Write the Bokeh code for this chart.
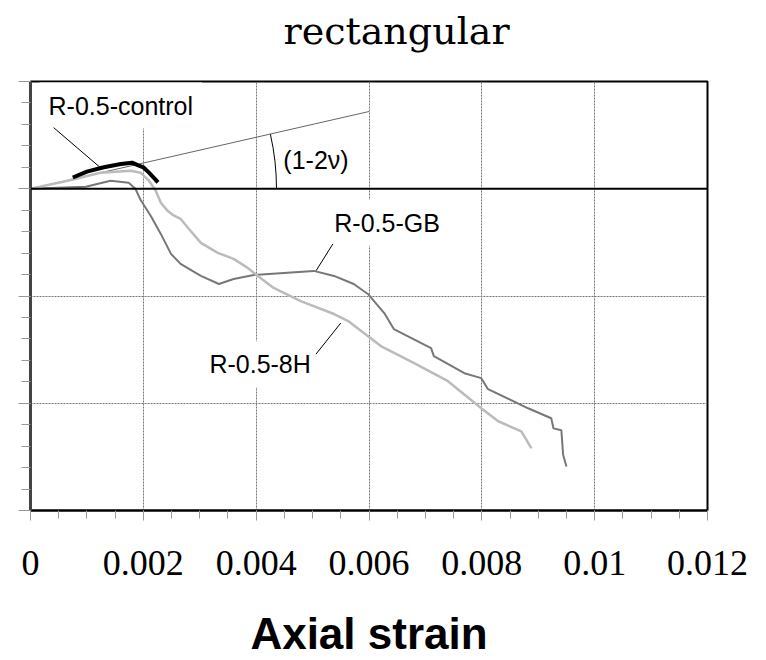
import math
from bokeh.plotting import figure
from bokeh.models import FixedTicker, Span, CustomJSTickFormatter, LinearAxis
from bokeh.core.properties import value
from bokeh.embed import file_html
from bokeh.resources import INLINE

# ---------------- data ----------------
TITLE = "rectangular"
X_LABEL = "Axial strain"
X_TICKS = [0, 0.002, 0.004, 0.006, 0.008, 0.010, 0.012]
X_TICK_LABELS = ["0", "0.002", "0.004", "0.006", "0.008", "0.01", "0.012"]
Y_TICKS = [-0.003, -0.002, -0.001, 0.0, 0.001]

# R-0.5-control
ctrl_x = [0.00075, 0.0010, 0.0013, 0.0016, 0.0018, 0.0019, 0.0020, 0.0021, 0.0022, 0.00226]
ctrl_y = [0.000105, 0.000160, 0.000200, 0.000230, 0.000243, 0.000220, 0.000200, 0.000150, 0.000095, 0.000060]

# R-0.5-8H
h8_x = [0.0, 0.00066, 0.00124, 0.00178, 0.00195, 0.00210, 0.00222, 0.00231, 0.00243, 0.00252,
        0.00266, 0.00279, 0.00302, 0.00332, 0.00360, 0.00385, 0.00403, 0.00431, 0.00479, 0.00538,
        0.00563, 0.00621, 0.00680, 0.00740, 0.00799, 0.00829, 0.00870, 0.00888]
h8_y = [0.0, 0.000075, 0.00015, 0.000168, 0.00015, 0.000075, -0.000019, -0.000131, -0.000206, -0.000243,
        -0.00028, -0.000364, -0.000505, -0.000598, -0.000654, -0.000738, -0.000813, -0.000925, -0.001047, -0.001168,
        -0.001234, -0.001467, -0.001626, -0.001794, -0.002047, -0.002168, -0.002262, -0.002421]

# R-0.5-GB
gb_x = [0.0, 0.00098, 0.00142, 0.00174, 0.00186, 0.00195, 0.00213, 0.00231, 0.00249, 0.00266,
        0.00302, 0.00334, 0.00360, 0.00396, 0.00449, 0.00502, 0.00538, 0.00573, 0.00598, 0.00627,
        0.00644, 0.00710, 0.00715, 0.00769, 0.00799, 0.00811, 0.00882, 0.00923, 0.00927, 0.00941,
        0.00944, 0.00950]
gb_y = [0.0, 0.000019, 0.000075, 0.000056, 0.0, -0.000103, -0.000252, -0.000421, -0.000607, -0.000701,
        -0.000813, -0.000888, -0.000841, -0.000804, -0.000785, -0.000766, -0.000813, -0.000888, -0.000981, -0.001159,
        -0.001308, -0.001486, -0.001561, -0.00172, -0.001766, -0.001869, -0.002047, -0.00214, -0.002234, -0.002252,
        -0.002477, -0.002589]

# (1-2v) reference line
SLOPE = 0.12
slope_x = [0.0, 0.006]

# annotations
label_text = ["R-0.5-control", "R-0.5-GB", "R-0.5-8H"]
label_x = [0.00160, 0.00632, 0.00407]
label_y = [0.000776, -0.000318, -0.001636]
nu_text = ["(1-2\u03bd)"]
nu_x = [0.00506]
nu_y = [0.000271]
leader_x0 = [0.00041, 0.00536, 0.00506]
leader_y0 = [0.00057, -0.000514, -0.001542]
leader_x1 = [0.00124, 0.00506, 0.00550]
leader_y1 = [0.000196, -0.000766, -0.001252]

# ---------------- figure ----------------
p = figure(width=766, height=660, output_backend="svg", toolbar_location=None,
           x_range=(0, 0.012), y_range=(-0.003, 0.001),
           min_border_left=30, min_border_right=59, min_border_top=81, min_border_bottom=149)
p.background_fill_color = "white"
p.border_fill_color = "white"
p.outline_line_color = "black"
p.outline_line_width = 2

xa = p.below[0]
ya = p.left[0]

# invisible spacer between frame and title (one hidden tick, no line, empty label)
spacer = LinearAxis(ticker=FixedTicker(ticks=[X_TICKS[3]], minor_ticks=[]), axis_line_color=None,
                    major_tick_in=0, major_tick_out=27, minor_tick_in=0, minor_tick_out=0,
                    major_tick_line_color=None, minor_tick_line_color=None,
                    major_label_standoff=0, formatter=CustomJSTickFormatter(code="return '';"))
p.add_layout(spacer, "above")

p.title.text = TITLE
p.title.text_font = "DejaVu Serif"
p.title.text_font_size = "38px"
p.title.text_font_style = "normal"
p.title.text_color = "black"
p.title.align = "left"
p.title.offset = 253
p.title.vertical_align = "top"
p.title.standoff = 0

xa.ticker = FixedTicker(ticks=X_TICKS, minor_ticks=[i * 0.0005 for i in range(25)])
xa.major_label_overrides = {t: s for t, s in zip(X_TICKS, X_TICK_LABELS)}
xa.major_label_text_font = "Liberation Serif"
xa.major_label_text_font_size = "36px"
xa.major_label_text_color = "black"
xa.major_label_standoff = 30
xa.major_tick_in = 0
xa.major_tick_out = 10
xa.minor_tick_in = 0
xa.minor_tick_out = 8
xa.major_tick_line_color = "#999999"
xa.minor_tick_line_color = "#999999"
xa.axis_line_color = "black"
xa.axis_line_width = 2
xa.axis_label = X_LABEL
xa.axis_label_text_font = "Liberation Sans"
xa.axis_label_text_font_size = "44px"
xa.axis_label_text_font_style = "bold"
xa.axis_label_text_color = "black"
xa.axis_label_standoff = 31

ya.ticker = FixedTicker(ticks=Y_TICKS, minor_ticks=[-0.003 + i * 0.0002 for i in range(21)])
ya.formatter = CustomJSTickFormatter(code="return '';")
ya.major_label_standoff = 0
ya.major_tick_in = 0
ya.major_tick_out = 12
ya.minor_tick_in = 0
ya.minor_tick_out = 9
ya.major_tick_line_color = "#999999"
ya.minor_tick_line_color = "#999999"
ya.axis_line_color = "#444444"
ya.axis_line_width = 3

for g in (p.xgrid[0], p.ygrid[0]):
    g.grid_line_color = "#777777"
    g.grid_line_width = 1
    g.grid_line_dash = "2 1"
p.xgrid[0].ticker = FixedTicker(ticks=X_TICKS)
p.ygrid[0].ticker = FixedTicker(ticks=Y_TICKS)

p.add_layout(Span(location=0.0, dimension="width", line_color="black", line_width=2))

# labels with white boxes (cover grid)
p.text(x=label_x, y=label_y, text=label_text, text_font=value("Liberation Sans"),
       text_font_size="25px", text_color="black", text_align="center", text_baseline="middle",
       background_fill_color="white", padding=9)
p.text(x=nu_x, y=nu_y, text=nu_text, text_font=value("Liberation Sans"),
       text_font_size="25px", text_color="black", text_align="center", text_baseline="middle")

# slope line and arc
p.line(slope_x, [SLOPE * v for v in slope_x], line_color="#666666", line_width=1)
p.arc(x=[0.0], y=[0.0], radius=246, radius_units="screen", start_angle=0.0,
      end_angle=math.atan(0.227), line_color="black", line_width=1)

# leader lines
p.segment(x0=leader_x0, y0=leader_y0, x1=leader_x1, y1=leader_y1, line_color="black", line_width=1)

# curves
p.line(gb_x, gb_y, line_color="#777777", line_width=2)
p.line(h8_x, h8_y, line_color="#bbbbbb", line_width=2.5)
p.line(ctrl_x, ctrl_y, line_color="black", line_width=4)

open("out.html", "w").write(file_html(p, INLINE))
